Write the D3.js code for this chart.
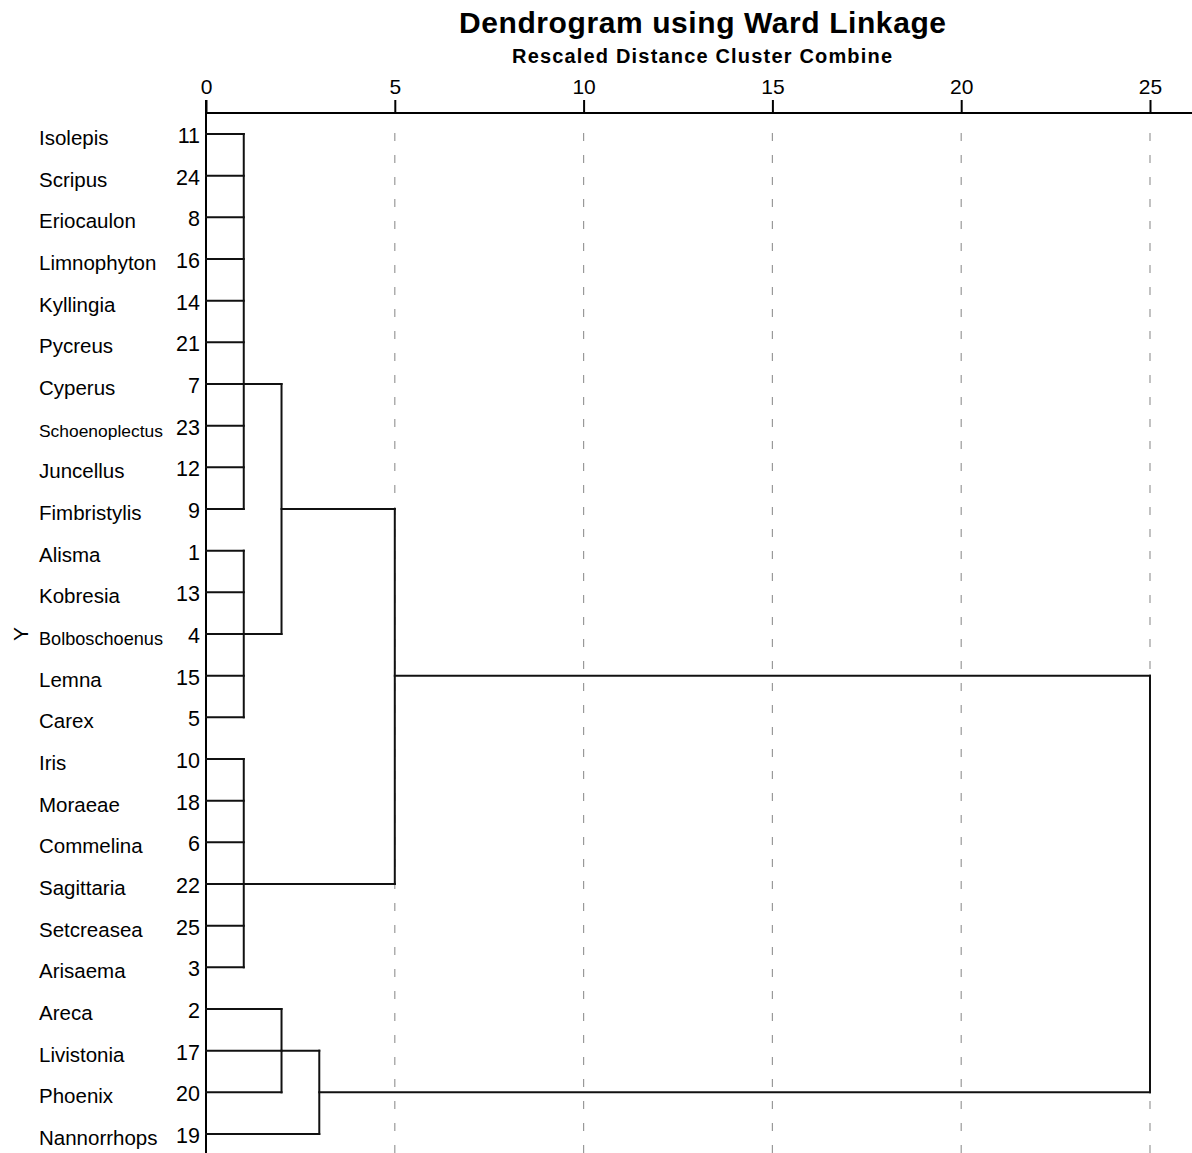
<!DOCTYPE html>
<html>
<head>
<meta charset="utf-8">
<script src="https://cdn.jsdelivr.net/npm/d3@7"></script>
<style>
  html, body { margin: 0; padding: 0; background: #fff; }
  svg { display: block; font-family: "Liberation Sans", Arial, sans-serif; }
</style>
</head>
<body>
<svg id="chart" width="1192" height="1153"></svg>
<script>
// Leaves in display order (top to bottom) with their case numbers
const leafNames = ["Isolepis", "Scripus", "Eriocaulon", "Limnophyton", "Kyllingia", "Pycreus",
  "Cyperus", "Schoenoplectus", "Juncellus", "Fimbristylis", "Alisma", "Kobresia", "Bolboschoenus",
  "Lemna", "Carex", "Iris", "Moraeae", "Commelina", "Sagittaria", "Setcreasea", "Arisaema",
  "Areca", "Livistonia", "Phoenix", "Nannorrhops"];
const caseNumbers = [11, 24, 8, 16, 14, 21, 7, 23, 12, 9, 1, 13, 4, 15, 5, 10, 18, 6, 22, 25, 3, 2, 17, 20, 19];

// Agglomeration steps: id, members, rescaled distance, leaf row the joined cluster is drawn from
const mergeIds = ["c1", "c2", "c3", "c4", "c5", "c6", "c7", "c8"];
const mergeChildren = [
  ["Isolepis", "Scripus", "Eriocaulon", "Limnophyton", "Kyllingia", "Pycreus", "Cyperus", "Schoenoplectus", "Juncellus", "Fimbristylis"],
  ["Alisma", "Kobresia", "Bolboschoenus", "Lemna", "Carex"],
  ["Iris", "Moraeae", "Commelina", "Sagittaria", "Setcreasea", "Arisaema"],
  ["Areca", "Livistonia", "Phoenix"],
  ["c1", "c2"],
  ["c5", "c3"],
  ["c4", "Nannorrhops"],
  ["c6", "c7"]
];
const mergeHeights = [1, 1, 1, 2, 2, 5, 3, 25];
const mergeAnchors = ["Cyperus", "Bolboschoenus", "Sagittaria", "Livistonia", "Fimbristylis", "Lemna", "Phoenix", null];

// Axis ticks
const tickValues = [0, 5, 10, 15, 20, 25];

const titleText = "Dendrogram using Ward Linkage";
const subtitleText = "Rescaled Distance Cluster Combine";
const yTitle = "Y";

const svg = d3.select("#chart");
const W = 1192, H = 1153;
const ink = "#000";

const x = d3.scaleLinear().domain([0, 25]).range([206, 1150]);
const y = d3.scalePoint().domain(leafNames).range([134, 1134]);
const axisY = 113;

// Titles
svg.append("text")
  .attr("x", 702.5).attr("y", 33)
  .attr("text-anchor", "middle")
  .attr("font-size", 30).attr("font-weight", "bold").attr("fill", ink)
  .attr("textLength", 487).attr("lengthAdjust", "spacing")
  .text(titleText);
svg.append("text")
  .attr("x", 702).attr("y", 63)
  .attr("text-anchor", "middle")
  .attr("font-size", 20).attr("font-weight", "bold").attr("fill", ink)
  .attr("textLength", 380).attr("lengthAdjust", "spacing")
  .text(subtitleText);

// Dashed reference lines
svg.append("g").selectAll("line")
  .data(tickValues.filter(v => v > 0))
  .join("line")
  .attr("x1", d => x(d)).attr("x2", d => x(d))
  .attr("y1", 133).attr("y2", H)
  .attr("stroke", "#999").attr("stroke-width", 1.2)
  .attr("stroke-dasharray", "8,14");

// Top axis
const axis = d3.axisTop(x).tickValues(tickValues).tickSize(13).tickPadding(6).tickSizeOuter(0);
const gAxis = svg.append("g").attr("transform", `translate(0,${axisY})`).call(axis);
gAxis.select(".domain").remove();
gAxis.selectAll(".tick line").attr("stroke", ink).attr("stroke-width", 2);
gAxis.selectAll(".tick text")
  .attr("font-size", 21).attr("fill", ink)
  .attr("font-family", "'Liberation Sans', Arial, sans-serif");
svg.append("line")
  .attr("x1", x(0)).attr("x2", W)
  .attr("y1", axisY).attr("y2", axisY)
  .attr("stroke", ink).attr("stroke-width", 2);
// Zero line running down past the leaves
svg.append("line")
  .attr("x1", x(0)).attr("x2", x(0))
  .attr("y1", axisY - 13).attr("y2", H)
  .attr("stroke", ink).attr("stroke-width", 2);

// Leaf labels and case numbers; long names are shrunk to fit the label column
const nameSize = 20.5, maxNameW = 124;
const gLabels = svg.append("g").attr("fill", ink);
gLabels.selectAll("text.name")
  .data(leafNames)
  .join("text")
  .attr("class", "name")
  .attr("font-size", nameSize)
  .attr("x", 39).attr("y", d => y(d) + 11)
  .text(d => d)
  .each(function () {
    const w = this.getComputedTextLength();
    if (w > maxNameW) {
      d3.select(this).attr("font-size", nameSize * maxNameW / w);
    }
  });
gLabels.selectAll("text.num")
  .data(leafNames)
  .join("text")
  .attr("class", "num")
  .attr("font-size", 21.5)
  .attr("x", 200).attr("y", d => y(d) + 9)
  .attr("text-anchor", "end")
  .text((d, i) => caseNumbers[i]);

// Y-axis title
svg.append("text")
  .attr("transform", `translate(28,${y("Bolboschoenus")}) rotate(-90)`)
  .attr("text-anchor", "middle")
  .attr("font-size", 21).attr("fill", ink)
  .text(yTitle);

// Dendrogram links
const nodeHeight = {};
const nodeRow = {};
leafNames.forEach(n => { nodeHeight[n] = 0; nodeRow[n] = y(n); });
mergeIds.forEach((id, i) => {
  nodeHeight[id] = mergeHeights[i];
  nodeRow[id] = mergeAnchors[i] ? y(mergeAnchors[i]) : null;
});

const segs = [];
mergeIds.forEach((id, i) => {
  const h = mergeHeights[i];
  const kids = mergeChildren[i];
  const ys = kids.map(k => nodeRow[k]);
  kids.forEach(k => {
    segs.push({ x1: x(nodeHeight[k]), x2: x(h), y1: nodeRow[k], y2: nodeRow[k] });
  });
  segs.push({ x1: x(h), x2: x(h), y1: d3.min(ys), y2: d3.max(ys) });
});

svg.append("g")
  .attr("stroke", "#111").attr("stroke-width", 2).attr("stroke-linecap", "square")
  .selectAll("line")
  .data(segs)
  .join("line")
  .attr("x1", d => d.x1).attr("x2", d => d.x2)
  .attr("y1", d => d.y1).attr("y2", d => d.y2);
</script>
</body>
</html>
